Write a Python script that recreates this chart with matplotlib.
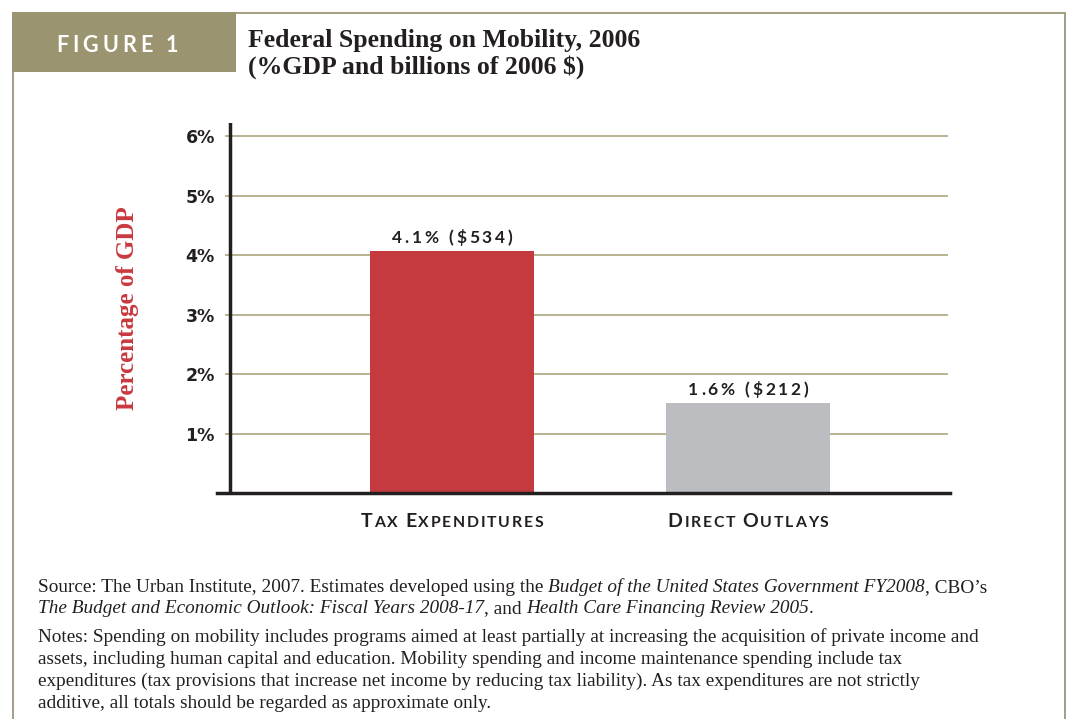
import matplotlib
matplotlib.use("Agg")
import matplotlib.pyplot as plt
from matplotlib.patches import Rectangle
from matplotlib.lines import Line2D
from matplotlib.transforms import IdentityTransform

# Data
categories = ["Tax Expenditures", "Direct Outlays"]
bar_heights = [4.07, 1.51]          # % of GDP as drawn
bar_labels = ["4.1% ($534)", "1.6% ($212)"]
bar_colors = ["#c43a3f", "#bcbdc0"]
y_ticks = [1, 2, 3, 4, 5, 6]
y_ticklabels = ["1%", "2%", "3%", "4%", "5%", "6%"]

W, H = 1069, 719
fig = plt.figure(figsize=(W / 100, H / 100), dpi=100)
fig.patch.set_facecolor("white")
R = fig.canvas.get_renderer()

OLIVE = "#9b9471"
INK = "#231f20"
SERIF = "Liberation Serif"
SANS = "Lato"


def fx(px):
    return px / W


def fy(py):  # pixel from top -> figure fraction
    return 1 - py / H


def run_width(s, kw):
    t = fig.text(0, 0, s + "|", transform=IdentityTransform(), **kw)
    b = fig.text(0, 0, "|", transform=IdentityTransform(), **kw)
    w = t.get_window_extent(R).width - b.get_window_extent(R).width
    t.remove()
    b.remove()
    return w


def draw_runs(x, y_top, runs, ha="left", tracking=0.0):
    # x, y_top in pixels from top-left; y is the baseline
    widths = [run_width(s, kw) + tracking for s, kw in runs]
    total = sum(widths) - (tracking if runs else 0)
    cur = x - total / 2 if ha == "center" else x
    for (s, kw), w in zip(runs, widths):
        fig.text(cur, H - y_top, s, transform=IdentityTransform(),
                 va="baseline", ha="left", **kw)
        cur += w


# Frame and header box
fig.add_artist(Rectangle((fx(12), fy(72)), fx(224), 60 / H, transform=fig.transFigure,
                         facecolor=OLIVE, edgecolor="none"))
for xs, ys in [((236, 1065), (13, 13)), ((1065, 1065), (13, 719)), ((13, 13), (72, 719))]:
    fig.add_artist(Line2D([fx(v) for v in xs], [fy(v) for v in ys],
                          transform=fig.transFigure, color="#a39d80", lw=1.4))

fig_kw = dict(family=SANS, fontsize=15.5, color="white", weight="bold")
draw_runs(117, 52, [(c, fig_kw) for c in "FIGURE 1"], ha="center", tracking=4)

title_kw = dict(family=SERIF, fontsize=18.5, weight="bold", color=INK)
fig.text(fx(248), fy(47), "Federal Spending on Mobility, 2006", va="baseline", **title_kw)
fig.text(fx(248), fy(74), "(%GDP and billions of 2006 $)", va="baseline", **title_kw)

# Chart axes
ax = fig.add_axes([fx(217), fy(493), fx(733), (493 - 123) / H])
x = list(range(len(categories)))
ax.bar(x, bar_heights, width=164 / 296, color=bar_colors, zorder=3)
ax.set_xlim(-0.794, 1.682)
ax.set_ylim(0, 6.22)
ax.hlines(y_ticks, -0.767, 1.676, color="#b8b393", lw=1.4, zorder=1)
ax.axvline(-0.75, color=INK, lw=2.5, zorder=4)
for s in ["top", "right", "left"]:
    ax.spines[s].set_visible(False)
ax.spines["bottom"].set_color(INK)
ax.spines["bottom"].set_linewidth(2.5)
ax.spines["bottom"].set_zorder(5)
ax.set_xticks([])
ax.set_yticks(y_ticks)
ax.set_yticklabels(y_ticklabels, family="DejaVu Sans", fontsize=12.5, weight="bold", color=INK)
ax.tick_params(axis="y", length=0, pad=1.5)
ax.set_facecolor("none")

ax.text(-0.794 - 89 / 296, 3.1, "Percentage of GDP", rotation=90, ha="center",
        va="center", family=SERIF, fontsize=18, weight="bold", color="#c8393e")

# Bar value labels (letter-spaced)
val_kw = dict(family=SANS, fontsize=12.5, weight="bold", color=INK)
for xi, h, lab in zip(x, bar_heights, bar_labels):
    cx, top = ax.transData.transform((xi, h))
    draw_runs(cx, H - top - 8, [(c, val_kw) for c in lab], ha="center", tracking=2.8)

# Small-caps category labels
big = dict(family=SANS, fontsize=14, weight="bold", color=INK)
small = dict(family=SANS, fontsize=11.3, weight="bold", color=INK)
for xi, name in zip(x, categories):
    runs = []
    for i, word in enumerate(name.split()):
        if i:
            runs.append((" ", small))
        runs.append((word[0].upper(), big))
        for c in word[1:]:
            runs.append((c.upper(), small))
    cx = ax.transData.transform((xi, 0))[0]
    draw_runs(cx, 527, runs, ha="center", tracking=1.8)

# Footnotes
norm = dict(family=SERIF, fontsize=13.9, color=INK)
ital = dict(family=SERIF, fontsize=13.9, color=INK, style="italic")
note_lines = [
    (592, [("Source: The Urban Institute, 2007. Estimates developed using the ", norm),
           ("Budget of the United States Government FY2008", ital),
           (", CBO\u2019s", norm)]),
    (613, [("The Budget and Economic Outlook: Fiscal Years 2008-17", ital),
           (", and ", norm),
           ("Health Care Financing Review 2005", ital),
           (".", norm)]),
    (642, [("Notes: Spending on mobility includes programs aimed at least partially at "
            "increasing the acquisition of private income and", norm)]),
    (664, [("assets, including human capital and education. Mobility spending and income "
            "maintenance spending include tax", norm)]),
    (686, [("expenditures (tax provisions that increase net income by reducing tax "
            "liability). As tax expenditures are not strictly", norm)]),
    (708, [("additive, all totals should be regarded as approximate only.", norm)]),
]
for ypos, runs in note_lines:
    draw_runs(38, ypos, runs)

fig.savefig("out.png", dpi=100, facecolor="white")
